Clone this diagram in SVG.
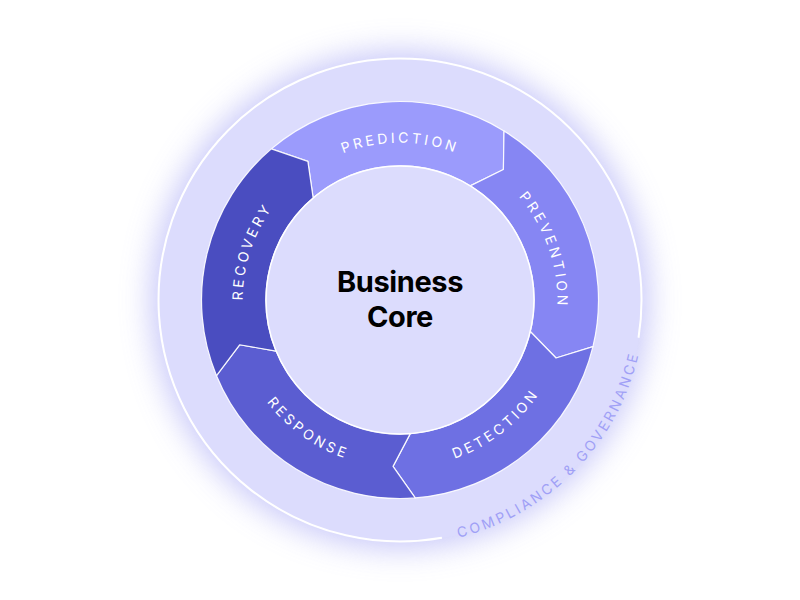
<svg xmlns="http://www.w3.org/2000/svg" width="800" height="600" viewBox="0 0 800 600">
  <style>
    .seg { stroke: #ffffff; stroke-width: 1.2; stroke-linejoin: round; stroke-opacity: 0.9; }
    .lbl { font-family: Inter, "Noto Sans", "Liberation Sans", sans-serif; font-size: 14px; font-weight: 400; fill: #ffffff; letter-spacing: 3.2px; }
    .outer-lbl { font-family: Inter, "Noto Sans", "Liberation Sans", sans-serif; font-size: 14px; font-weight: 400; fill: #a0a0f6; letter-spacing: 2.8px; }
    .core { font-family: Inter, "Noto Sans", "Liberation Sans", sans-serif; font-size: 29px; font-weight: 700; fill: #000000; letter-spacing: -0.4px; }
  </style>
  <defs>
    <filter id="glow" x="-30%" y="-30%" width="160%" height="160%">
      <feGaussianBlur stdDeviation="15"/>
    </filter>
    <path id="p-prediction" d="M 288.77 188.77 A 157.3 157.3 0 0 1 511.23 188.77"/>
    <path id="p-prevention" d="M 468.96 158.62 A 157.3 157.3 0 0 1 541.38 368.96"/>
    <path id="p-recovery" d="M 259.84 371.41 A 157.3 157.3 0 0 1 328.59 159.84"/>
    <path id="p-detection" d="M 378.40 466.31 A 167.7 167.7 0 0 0 566.31 321.60"/>
    <path id="p-response" d="M 234.60 327.67 A 167.7 167.7 0 0 0 427.67 465.40"/>
    <path id="p-compliance" d="M 381.65 544.01 A 244.7 244.7 0 0 0 643.50 275.70"/>
  </defs>

  <rect width="800" height="600" fill="#ffffff"/>

  <g id="outer-ring">
    <circle cx="400" cy="300" r="249" fill="#bcbcf8" opacity="0.8" filter="url(#glow)"/>
    <circle cx="400" cy="300" r="242" fill="#dcdcfd"/>
    <path d="M 441.93 537.83 A 241.5 241.5 0 1 1 638.53 337.77" fill="none" stroke="#ffffff" stroke-width="2"/>
    <text class="outer-lbl"><textPath href="#p-compliance" startOffset="50%" text-anchor="middle">COMPLIANCE &amp; GOVERNANCE</textPath></text>
  </g>

  <g id="prediction">
    <path class="seg" fill="#9b9bfc" d="M 271.35 148.84 A 198.5 198.5 0 0 1 504.01 130.94 L 503.41 169.51 L 470.22 185.87 A 134 134 0 0 0 313.15 197.96 L 307.86 161.32 Z"/>
    <text class="lbl"><textPath href="#p-prediction" startOffset="50%" text-anchor="middle">PREDICTION</textPath></text>
  </g>
  <g id="prevention">
    <path class="seg" fill="#8686f3" d="M 504.01 130.94 A 198.5 198.5 0 0 1 592.94 346.67 L 556.06 358.04 L 530.25 331.50 A 134 134 0 0 0 470.22 185.87 L 503.41 169.51 Z"/>
    <text class="lbl"><textPath href="#p-prevention" startOffset="50%" text-anchor="middle">PREVENTION</textPath></text>
  </g>
  <g id="detection">
    <path class="seg" fill="#6e70e3" d="M 592.94 346.67 A 198.5 198.5 0 0 1 415.23 497.92 L 393.02 466.35 L 410.28 433.61 A 134 134 0 0 0 530.25 331.50 L 556.06 358.04 Z"/>
    <text class="lbl"><textPath href="#p-detection" startOffset="50%" text-anchor="middle">DETECTION</textPath></text>
  </g>
  <g id="response">
    <path class="seg" fill="#5b5dd1" d="M 415.23 497.92 A 198.5 198.5 0 0 1 216.49 375.65 L 239.63 344.77 L 276.12 351.07 A 134 134 0 0 0 410.28 433.61 L 393.02 466.35 Z"/>
    <text class="lbl"><textPath href="#p-response" startOffset="50%" text-anchor="middle">RESPONSE</textPath></text>
  </g>
  <g id="recovery">
    <path class="seg" fill="#4a4dc0" d="M 216.49 375.65 A 198.5 198.5 0 0 1 271.35 148.84 L 307.86 161.32 L 313.15 197.96 A 134 134 0 0 0 276.12 351.07 L 239.63 344.77 Z"/>
    <text class="lbl"><textPath href="#p-recovery" startOffset="50%" text-anchor="middle">RECOVERY</textPath></text>
  </g>

  <g id="business-core">
    <circle cx="400" cy="300" r="134" fill="#dcdcfd" stroke="#ffffff" stroke-width="1.5"/>
    <text class="core" x="400" y="292.3" text-anchor="middle">Business</text>
    <text class="core" x="400" y="326.7" text-anchor="middle">Core</text>
  </g>
</svg>
